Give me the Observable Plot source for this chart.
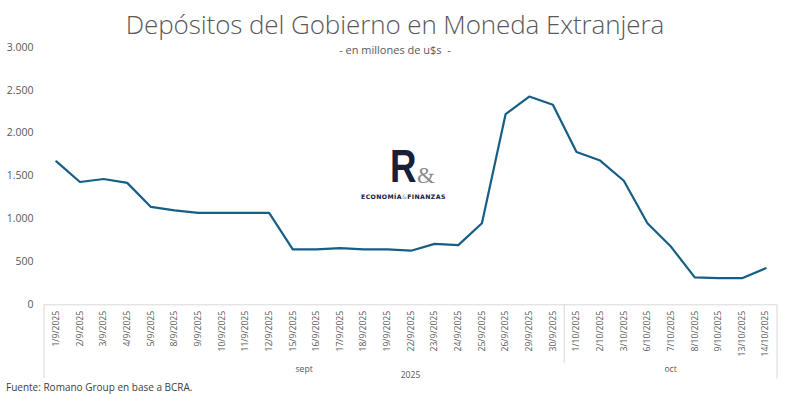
<!DOCTYPE html>
<html>
<head>
<meta charset="utf-8">
<script src="https://cdn.jsdelivr.net/npm/d3@7"></script>
<script src="https://cdn.jsdelivr.net/npm/@observablehq/plot@0.6"></script>
<style>
  html, body { margin: 0; padding: 0; background: #fff; }
  #wrap { position: relative; width: 790px; height: 395px; overflow: hidden; font-family: "Open Sans", "Noto Sans", sans-serif; }
  #title { position: absolute; left: 0; top: 7px; width: 790px; text-align: center; font-size: 26px; font-weight: 300; color: #595959; line-height: 34px; letter-spacing: -0.1px; }
  #subtitle { position: absolute; left: 0; top: 42px; width: 790px; text-align: center; font-size: 11px; color: #595959; }
  #chart { position: absolute; left: 0; top: 0; }
  #caption { position: absolute; left: 6px; top: 380px; font-size: 10px; color: #404040; }
  #logo { position: absolute; left: 355px; top: 135px; width: 100px; height: 70px; }
  #logo .r { position: absolute; left: 35px; top: 7px; font-family: "Liberation Sans", sans-serif; font-weight: 700; font-size: 47px; color: #16203a; line-height: 47px; transform: scaleX(0.78); transform-origin: left top; }
  #logo .amp { position: absolute; left: 62px; top: 29px; font-family: "Liberation Serif", serif; font-size: 23px; color: #8c8c8c; line-height: 23px; }
  #logo .txt { position: absolute; left: 6px; top: 58px; font-family: "DejaVu Sans", sans-serif; font-weight: 700; font-size: 6.2px; letter-spacing: 0.4px; color: #16203a; white-space: nowrap; line-height: 8px; }
  #logo .txt span { color: #9a9a9a; font-weight: 400; }
</style>
</head>
<body>
<div id="wrap">
  <div id="chart"></div>
  <div id="title">Depósitos del Gobierno en Moneda Extranjera</div>
  <div id="subtitle">- en millones de u$s&nbsp; -</div>
  <div id="logo"><div class="r">R</div><div class="amp">&amp;</div><div class="txt">ECONOMÍA<span>&amp;</span>FINANZAS</div></div>
  <div id="caption">Fuente: Romano Group en base a BCRA.</div>
</div>
<script>
const dates = ["1/9/2025","2/9/2025","3/9/2025","4/9/2025","5/9/2025","8/9/2025","9/9/2025","10/9/2025","11/9/2025","12/9/2025","15/9/2025","16/9/2025","17/9/2025","18/9/2025","19/9/2025","22/9/2025","23/9/2025","24/9/2025","25/9/2025","26/9/2025","29/9/2025","30/9/2025","1/10/2025","2/10/2025","3/10/2025","6/10/2025","7/10/2025","8/10/2025","9/10/2025","13/10/2025","14/10/2025"];
const deposits = [1670,1430,1465,1420,1140,1100,1070,1070,1070,1070,645,645,660,645,645,630,710,695,950,2220,2425,2330,1780,1680,1445,950,675,320,310,310,425];
const months = ["sept","oct"];
const monthOf = ["sept","sept","sept","sept","sept","sept","sept","sept","sept","sept","sept","sept","sept","sept","sept","sept","sept","sept","sept","sept","sept","sept","oct","oct","oct","oct","oct","oct","oct","oct","oct"];
const year = "2025";
const yTicks = [0,500,1000,1500,2000,2500,3000];

const data = dates.map((d, i) => ({date: d, value: deposits[i], month: monthOf[i]}));
const fmt = d3.formatLocale({decimal: ",", thousands: ".", grouping: [3], currency: ["$", ""]}).format(",.0f");
const textColor = "#595959";
const lineGray = "#d9d9d9";

const chart = Plot.plot({
  width: 790,
  height: 380,
  marginLeft: 44,
  marginRight: 13,
  marginTop: 46.7,
  marginBottom: 75.7,
  style: {fontFamily: "'Open Sans', 'Noto Sans', sans-serif", background: "transparent", overflow: "visible"},
  x: {type: "point", domain: dates, padding: 0.5, round: false, label: null},
  y: {domain: [0, 3000], label: null},
  marks: [
    Plot.axisY({ticks: yTicks, tickFormat: fmt, tickSize: 0, tickPadding: 11, fontSize: 10.5, color: textColor}),
    Plot.axisX({tickRotate: -90, tickSize: 0, tickPadding: 6, fontSize: 8.6, color: textColor}),
    Plot.ruleY([0], {stroke: lineGray, strokeWidth: 1}),
    Plot.line(data, {x: "date", y: "value", stroke: "#165e83", strokeWidth: 2.2, strokeLinejoin: "round"})
  ]
});

// group separators and group labels, placed with the plot's own x scale
const xs = chart.scale("x");
const pos = d => xs.apply(d);
const step = pos(dates[1]) - pos(dates[0]);
const y0 = chart.scale("y").apply(0);
const svg = d3.select(chart);
const g = svg.append("g");

const groups = months.map(m => {
  const ds = dates.filter((d, i) => monthOf[i] === m);
  return {name: m, start: pos(ds[0]) - step / 2, end: pos(ds[ds.length - 1]) + step / 2};
});
const left = groups[0].start, right = groups[groups.length - 1].end;

[left, right].forEach(x => g.append("line").attr("x1", x).attr("x2", x).attr("y1", y0).attr("y2", y0 + 74).attr("stroke", lineGray));
groups.slice(1).forEach(gr => g.append("line").attr("x1", gr.start).attr("x2", gr.start).attr("y1", y0).attr("y2", y0 + 59).attr("stroke", lineGray));

groups.forEach(gr => g.append("text")
  .attr("x", (gr.start + gr.end) / 2).attr("y", y0 + 68)
  .attr("text-anchor", "middle").attr("font-size", 8.6).attr("fill", textColor).text(gr.name));

g.append("text").attr("x", (left + right) / 2).attr("y", y0 + 74)
  .attr("text-anchor", "middle").attr("font-size", 8.6).attr("fill", textColor).text(year);

document.getElementById("chart").appendChild(chart);
</script>
</body>
</html>
